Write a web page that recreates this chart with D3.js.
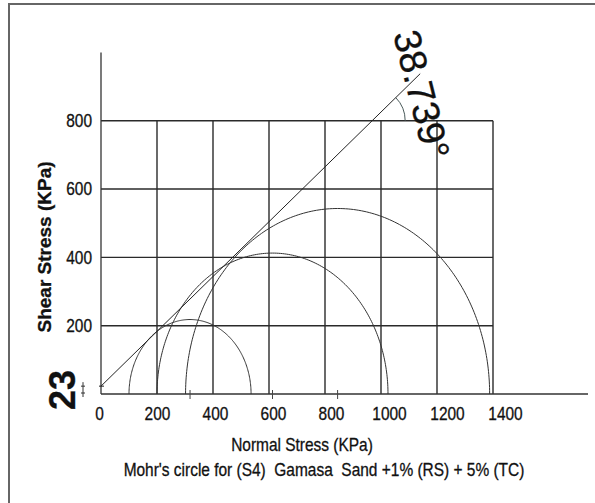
<!DOCTYPE html>
<html>
<head>
<meta charset="utf-8">
<script src="https://cdn.jsdelivr.net/npm/d3@7"></script>
<style>
  body { margin: 0; background: #fff; }
  text { font-family: "Liberation Sans", Arial, sans-serif; fill: #111; stroke: #111; stroke-width: 0.3; }
</style>
</head>
<body>
<svg id="chart" width="595" height="503"></svg>
<script>
// mohr circles (kPa): minor / major principal stress
const sigma3 = [100, 200, 302];
const sigma1 = [536, 1025, 1388];
const cohesion = 23;
const phiDeg = 38.739;
const lineEnd = 1140;          // normal stress where the envelope stops
const xTicks = [0, 200, 400, 600, 800, 1000, 1200, 1400];
const yTicks = [200, 400, 600, 800];
const yAxisTop = 1000;

const narrow = 0.86;   // the scan uses a condensed face
const svg = d3.select("#chart");

let x = d3.scaleLinear().domain([0, 1400]).range([101, 493]);
let y = d3.scaleLinear().domain([0, 800]).range([394, 120.7]);
// the printed tick labels sit a bit off the grid in the original
let xLabel = d3.scaleLinear().domain([0, 1400]).range([99, 505]);

// frame (top + left only)
svg.append("path")
  .attr("d", "M9,503 L9,4 L595,4")
  .attr("fill", "none").attr("stroke", "#666").attr("stroke-width", 2);

// grid
let grid = svg.append("g").attr("stroke", "#2a2a2a").attr("stroke-width", 1.4);
grid.selectAll(".v").data(xTicks.slice(1)).enter().append("line")
  .attr("x1", d => x(d)).attr("x2", d => x(d))
  .attr("y1", y(0)).attr("y2", y(800));
grid.selectAll(".h").data(yTicks).enter().append("line")
  .attr("x1", x(0)).attr("x2", x(1400))
  .attr("y1", d => y(d)).attr("y2", d => y(d));

// axes lines
svg.append("line").attr("x1", x(0)).attr("x2", x(0))
  .attr("y1", y(0)).attr("y2", y(yAxisTop))
  .attr("stroke", "#333").attr("stroke-width", 1.3);
svg.append("line").attr("x1", x(0)).attr("x2", 588)
  .attr("y1", y(0)).attr("y2", y(0))
  .attr("stroke", "#333").attr("stroke-width", 1.3);

// y tick labels
let yAxis = svg.append("g")
  .attr("transform", "translate(" + x(0) + ",0)")
  .call(d3.axisLeft(y).tickValues(yTicks).tickSize(0).tickFormat(d3.format("d")));
yAxis.select(".domain").remove();
yAxis.selectAll("text")
  .attr("x", -9 / narrow).attr("transform", "scale(" + narrow + ",1)")
  .attr("font-size", 18).attr("font-family", null);

// x tick labels
let xAxis = svg.append("g")
  .attr("transform", "translate(0," + y(0) + ")")
  .call(d3.axisBottom(xLabel).tickValues(xTicks).tickSize(0).tickPadding(13).tickFormat(d3.format("d")));
xAxis.select(".domain").remove();
xAxis.selectAll("text")
  .attr("transform", "scale(" + narrow + ",1)")
  .attr("font-size", 18).attr("font-family", null);

// mohr half circles
let arcLine = d3.line().x(d => x(d[0])).y(d => y(d[1]));
sigma3.forEach(function(s3, i) {
  let c = (s3 + sigma1[i]) / 2, r = (sigma1[i] - s3) / 2;
  let pts = d3.range(0, 181).map(a => {
    let t = a * Math.PI / 180;
    return [c + r * Math.cos(t), r * Math.sin(t)];
  });
  svg.append("path").attr("d", arcLine(pts))
    .attr("fill", "none").attr("stroke", "#333").attr("stroke-width", 1);
  // centre tick
  svg.append("line").attr("x1", x(c)).attr("x2", x(c))
    .attr("y1", y(0) - 4).attr("y2", y(0) + 5)
    .attr("stroke", "#444").attr("stroke-width", 1);
});

// failure envelope
let tanPhi = Math.tan(phiDeg * Math.PI / 180);
svg.append("line")
  .attr("x1", x(0)).attr("y1", y(cohesion))
  .attr("x2", x(lineEnd)).attr("y2", y(cohesion + lineEnd * tanPhi))
  .attr("stroke", "#222").attr("stroke-width", 1);
svg.append("line")
  .attr("x1", x(0) - 2).attr("x2", x(0) + 3)
  .attr("y1", y(cohesion)).attr("y2", y(cohesion))
  .attr("stroke", "#222").attr("stroke-width", 1);

// angle arc where envelope crosses the top grid line
let sCross = (800 - cohesion) / tanPhi;
let cx = x(sCross), cy = y(800);
let pxAngle = Math.atan2(y(cohesion) - y(cohesion + 100 * tanPhi), x(100) - x(0));
let rad = 33;
svg.append("path")
  .attr("d", "M" + (cx + rad * Math.cos(pxAngle)) + "," + (cy - rad * Math.sin(pxAngle)) +
    " A" + rad + "," + rad + " 0 0 1 " + (cx + rad) + "," + cy)
  .attr("fill", "none").attr("stroke", "#4a5a5a").attr("stroke-width", 1);

svg.append("text")
  .attr("transform", "translate(393,34) rotate(76)")
  .attr("font-size", 38)
  .text(phiDeg + "°");

// cohesion mark
svg.append("text")
  .attr("transform", "translate(62," + ((y(0) + y(cohesion)) / 2) + ") rotate(-90)")
  .attr("text-anchor", "middle").attr("dominant-baseline", "central")
  .attr("font-size", 36).attr("font-weight", "bold")
  .text(cohesion);
let mk = svg.append("g").attr("stroke", "#333").attr("stroke-width", 1);
mk.append("line").attr("x1", 83).attr("x2", 83).attr("y1", y(cohesion) - 4).attr("y2", y(0) + 3);
mk.append("line").attr("x1", 81).attr("x2", 85).attr("y1", y(cohesion)).attr("y2", y(cohesion));
mk.append("line").attr("x1", 81).attr("x2", 85).attr("y1", y(0) - 1).attr("y2", y(0) - 1);

// titles
svg.append("text")
  .attr("transform", "translate(51,247) rotate(-90)")
  .attr("text-anchor", "middle")
  .attr("font-weight", "bold").attr("font-size", 19)
  .text("Shear Stress (KPa)");

svg.append("text")
  .attr("transform", "translate(302,451) scale(" + narrow + ",1)")
  .attr("text-anchor", "middle").attr("font-size", 18)
  .text("Normal Stress (KPa)");

svg.append("text")
  .attr("transform", "translate(324,476) scale(" + narrow + ",1)")
  .attr("text-anchor", "middle").attr("font-size", 18)
  .style("white-space", "pre")
  .text("Mohr's circle for (S4)  Gamasa  Sand +1% (RS) + 5% (TC)");
</script>
</body>
</html>
